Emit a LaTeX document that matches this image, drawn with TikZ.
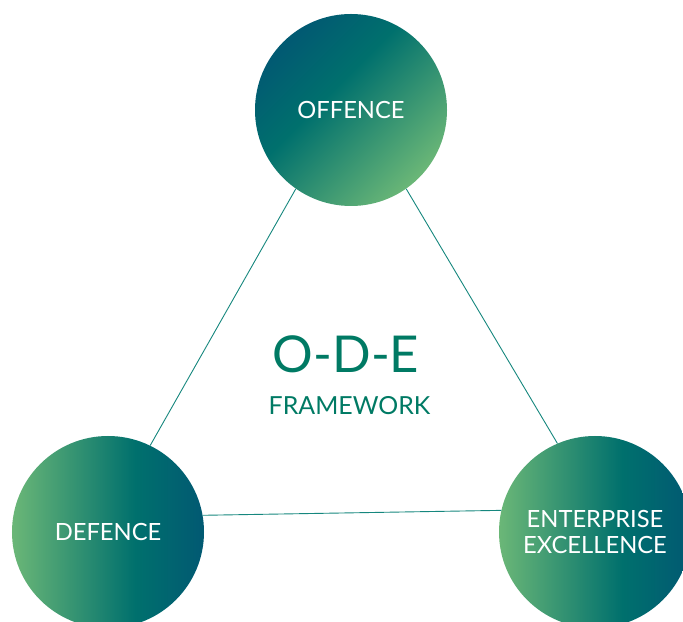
\documentclass[tikz,border=0pt]{standalone}
\usepackage{fontspec}
\setmainfont{Lato}
\definecolor{odedark}{HTML}{015A72}
\definecolor{odemid}{HTML}{00706D}
\definecolor{odelight}{HTML}{6BB777}
\definecolor{odeline}{HTML}{16877E}
\definecolor{odetext}{HTML}{007A64}
\pgfdeclarehorizontalshading{odeshade}{100bp}{color(0bp)=(odelight); color(25bp)=(odelight); color(57bp)=(odemid); color(74bp)=(odedark); color(100bp)=(odedark)}
\tikzset{
  bubble/.style={circle, minimum size=192bp, inner sep=0pt, shading=odeshade, text=white, align=center, font=\fontsize{23.8}{25.5}\selectfont},
  link/.style={draw=odeline, line width=0.9bp}
}
\begin{document}
\begin{tikzpicture}[x=1bp,y=1bp]
\useasboundingbox (0,0) rectangle (683,622);
\begin{scope}
\clip (0,0) rectangle (683,622);
\node[bubble, shading angle=135] (off) at (351,512) {OFFENCE};
\node[bubble] (def) at (108,90) {DEFENCE};
\node[bubble] (ent) at (595,90) {ENTERPRISE\\EXCELLENCE};
\draw[link] (off.235) -- (def.64);
\draw[link] (off.305) -- (ent.113);
\draw[link] (def.10) -- (ent.167);
\end{scope}
\node[text=odetext, font=\fontsize{51}{55}\selectfont, inner sep=0pt] (ode) at (346,268) {O-D-E};
\node[text=odetext, font=\fontsize{25}{28}\selectfont, inner sep=0pt] (fw) at (349.5,216) {FRAMEWORK};
\end{tikzpicture}
\end{document}
